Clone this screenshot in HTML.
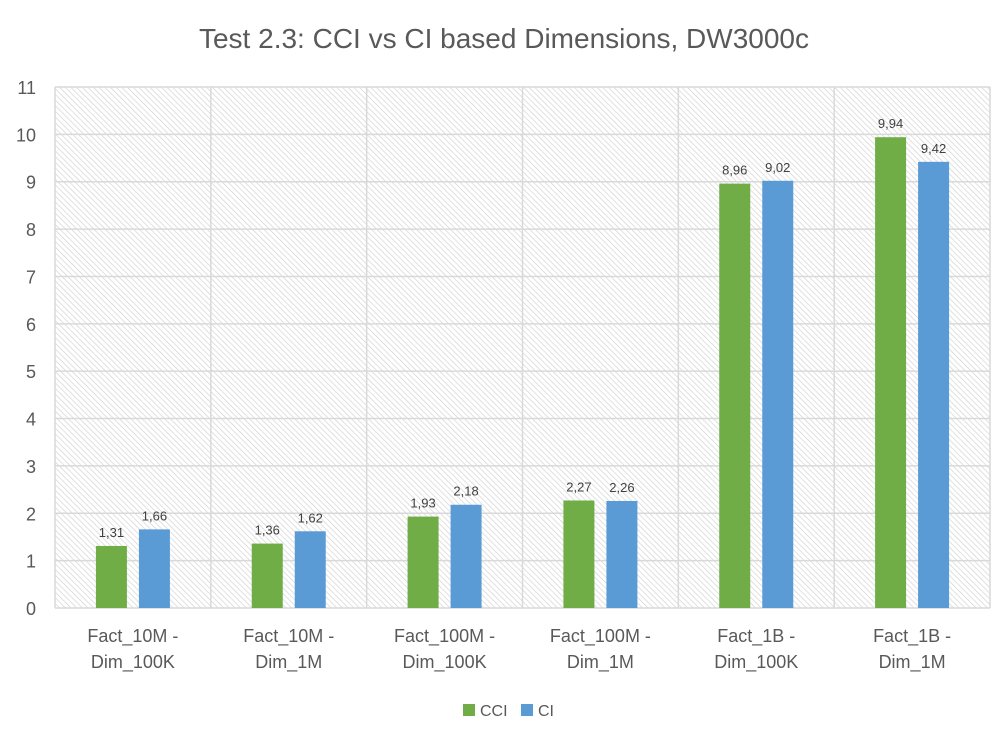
<!DOCTYPE html>
<html><head><meta charset="utf-8"><style>
body{margin:0;background:#fff;}
svg text{font-family:"Liberation Sans",sans-serif;}
</style></head><body>
<svg id="chart" width="1008" height="732" xmlns="http://www.w3.org/2000/svg">
<defs>
<pattern id="hatch" width="4" height="4" patternUnits="userSpaceOnUse" patternTransform="rotate(-45)">
<rect width="4" height="4" fill="#fff"/>
<line x1="0" y1="0" x2="0" y2="4" stroke="#d0d0d0" stroke-width="1.3"/>
</pattern>
</defs>
<text x="504" y="48" text-anchor="middle" font-size="28" fill="#595959">Test 2.3: CCI vs CI based Dimensions, DW3000c</text>
<rect x="55" y="87" width="935" height="521" fill="url(#hatch)"/>
<g id="grid"></g>
<g id="bars"></g>
<g id="labels"></g>
<g>
<rect x="463" y="704" width="12" height="12" fill="#70ad47"/>
<text x="480" y="716" font-size="16" fill="#595959">CCI</text>
<rect x="521" y="704" width="12" height="12" fill="#5b9bd5"/>
<text x="538" y="716" font-size="16" fill="#595959">CI</text>
</g>
</svg>
<script>
const categories=[["Fact_10M -","Dim_100K"],["Fact_10M -","Dim_1M"],["Fact_100M -","Dim_100K"],["Fact_100M -","Dim_1M"],["Fact_1B -","Dim_100K"],["Fact_1B -","Dim_1M"]];
const cciValues=[1.31,1.36,1.93,2.27,8.96,9.94];
const ciValues=[1.66,1.62,2.18,2.26,9.02,9.42];
const yTicks=[0,1,2,3,4,5,6,7,8,9,10,11];
const NS="http://www.w3.org/2000/svg";
const L=55,R=990,T=87,B=608,yMax=11;
const y=v=>B-(v/yMax)*(B-T);
const cw=(R-L)/categories.length;
const xc=i=>L+cw*(i+0.5);
function mk(tag,attrs,parent,txt){const e=document.createElementNS(NS,tag);for(const k in attrs)e.setAttribute(k,attrs[k]);if(txt!==undefined)e.textContent=txt;document.getElementById(parent).appendChild(e);return e;}
yTicks.forEach(t=>{
 const g=mk('line',{x1:L,x2:R,y1:y(t),y2:y(t),stroke:'#d9d9d9','stroke-width':1.5},'grid');
 
 
 const tx=mk('text',{x:36,y:y(t)+7,'text-anchor':'end','font-size':18,fill:'#595959'},'grid',String(t));
 
 
});
for(let i=0;i<=categories.length;i++){
 const v=mk('line',{x1:L+cw*i,x2:L+cw*i,y1:T,y2:B,stroke:'#d9d9d9','stroke-width':1.5},'grid');
 
 
}
const bw=31,gap=12;
const fmt=v=>v.toFixed(2).replace('.',',');
categories.forEach((c,i)=>{
 const x1=xc(i)-gap/2-bw, x2=xc(i)+gap/2;
 const b1=mk('rect',{x:x1,y:y(cciValues[i]),width:bw,height:B-y(cciValues[i]),fill:'#70ad47'},'bars');
 
 
 const b2=mk('rect',{x:x2,y:y(ciValues[i]),width:bw,height:B-y(ciValues[i]),fill:'#5b9bd5'},'bars');
 
 
 const l1=mk('text',{x:x1+bw/2,y:y(cciValues[i])-9,'text-anchor':'middle','font-size':13,fill:'#404040'},'labels',fmt(cciValues[i]));
 
 
 const l2=mk('text',{x:x2+bw/2,y:y(ciValues[i])-9,'text-anchor':'middle','font-size':13,fill:'#404040'},'labels',fmt(ciValues[i]));
 
 
 c.forEach((line,j)=>{
  const t=mk('text',{x:xc(i),y:642+j*26,'text-anchor':'middle','font-size':18,fill:'#595959'},'labels',line);
  
  
 });
});
</script>
</body></html>
